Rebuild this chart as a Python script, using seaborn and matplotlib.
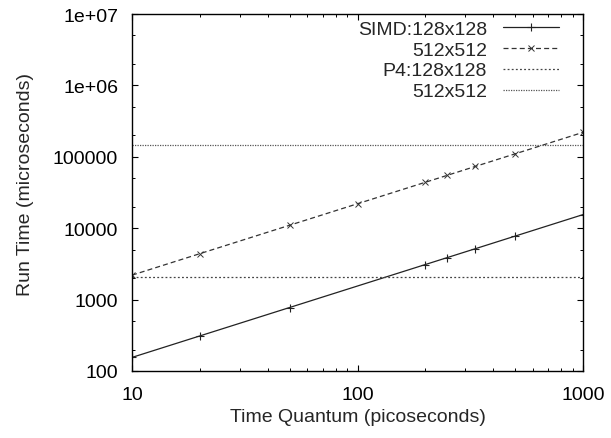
import numpy as np
import pandas as pd
import matplotlib
matplotlib.use("Agg")
import matplotlib.pyplot as plt
import seaborn as sns
from matplotlib.ticker import LogLocator, NullFormatter, FixedLocator, FixedFormatter

# ---- data ----
simd128_quantum = [10, 20, 50, 200, 250, 333, 500, 1000]
simd128_time = [155, 310, 775, 3100, 3875, 5160, 7750, 15500]
simd512_quantum = [10, 20, 50, 100, 200, 250, 333, 500, 1000]
simd512_time = [2200, 4400, 11000, 22000, 44000, 55000, 73300, 110000, 220000]
p4_quantum = [10, 1000]
p4_128_time = [2050, 2050]
p4_512_time = [145000, 145000]

labels = ["SIMD:128x128", "512x512", "P4:128x128", "512x512"]
x_ticks = [10, 100, 1000]
x_ticklabels = ["10", "100", "1000"]
y_ticks = [100, 1000, 10000, 100000, 1e6, 1e7]
y_ticklabels = ["100", "1000", "10000", "100000", "1e+06", "1e+07"]

sns.set_style("ticks")
plt.rcParams["font.family"] = ["Liberation Sans", "DejaVu Sans"]
FS = 14

fig = plt.figure(figsize=(6.11, 4.39), dpi=100)
ax = fig.add_axes([132 / 611, 1 - 372 / 439, 451 / 611, 357 / 439])

series = [
    (simd128_quantum, simd128_time, labels[0],
     dict(color="#222222", linestyle="-", marker="+", markersize=5.5, markeredgewidth=0.8,
          markeredgecolor="#222222")),
    (simd512_quantum, simd512_time, labels[1],
     dict(color="#333333", linestyle=(0, (4, 2.5)), marker="x", markersize=4.5, markeredgewidth=0.7,
          markeredgecolor="#333333")),
    (p4_quantum, p4_128_time, labels[2], dict(color="#444444", linestyle=(0, (1.5, 1.8)))),
    (p4_quantum, p4_512_time, labels[3], dict(color="#555555", linestyle=(0, (1, 1)))),
]
for xs, ys, lab, kw in series:
    df = pd.DataFrame({"q": xs, "t": ys})
    sns.lineplot(data=df, x="q", y="t", ax=ax, label=lab, linewidth=0.9, **kw)

ax.set_xscale("log")
ax.set_yscale("log")
ax.set_xlim(10, 1000)
ax.set_ylim(100, 1e7)

ax.xaxis.set_major_locator(FixedLocator(x_ticks))
ax.xaxis.set_major_formatter(FixedFormatter(x_ticklabels))
ax.xaxis.set_minor_locator(LogLocator(base=10, subs=np.arange(2, 10)))
ax.xaxis.set_minor_formatter(NullFormatter())
ax.yaxis.set_major_locator(FixedLocator(y_ticks))
ax.yaxis.set_major_formatter(FixedFormatter(y_ticklabels))
ax.yaxis.set_minor_locator(LogLocator(base=10, subs=[2, 5]))
ax.yaxis.set_minor_formatter(NullFormatter())

ax.tick_params(which="both", direction="in", top=True, right=True, colors="black", labelsize=FS)
ax.tick_params(which="major", length=4.5, width=0.8)
ax.tick_params(which="minor", length=2.5, width=0.7)
ax.tick_params(axis="x", which="major", pad=10.5)
ax.tick_params(axis="y", which="major", pad=10)

for s in ax.spines.values():
    s.set_visible(True)
    s.set_color("black")
    s.set_linewidth(1.0)

ax.set_xlabel("Time Quantum (picoseconds)", fontsize=FS)
ax.set_ylabel("Run Time (microseconds)", fontsize=FS)
ax.xaxis.set_label_coords(0.5, (372 - 409) / 357)
ax.yaxis.set_label_coords((34 - 132) / 451, (372 - 185) / 357)

leg = ax.legend(loc="upper right", bbox_to_anchor=(559 / 611, 1 - 21 / 439),
                bbox_transform=fig.transFigure, frameon=False, markerfirst=False,
                fontsize=FS, handlelength=2.9, handletextpad=0.8, labelspacing=0.17,
                borderpad=0, borderaxespad=0)

fig.savefig("out.png", dpi=100)
